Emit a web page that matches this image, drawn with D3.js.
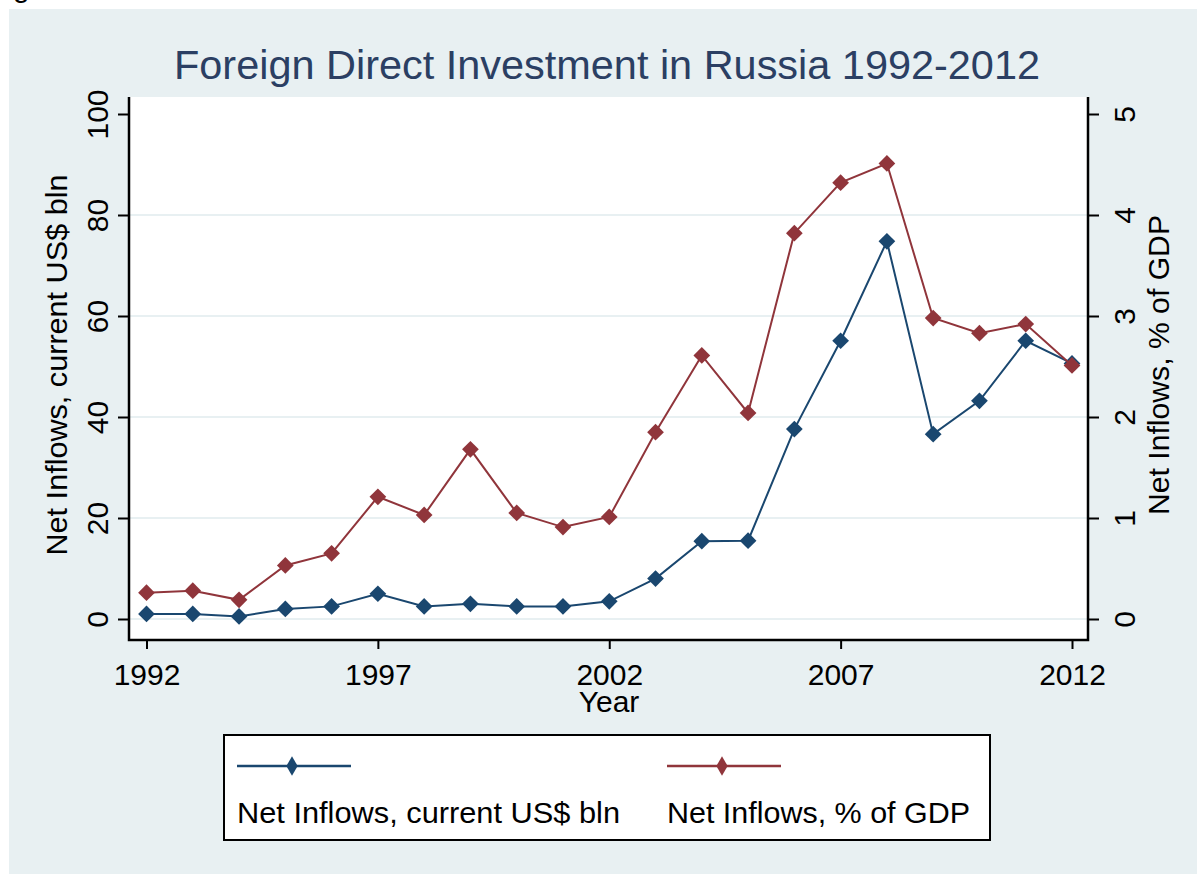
<!DOCTYPE html>
<html>
<head>
<meta charset="utf-8">
<script src="https://cdn.jsdelivr.net/npm/d3@7"></script>
<style>
  body { margin: 0; padding: 0; background: #fff; }
  svg { display: block; font-family: "Liberation Sans", Arial, sans-serif; }
</style>
</head>
<body>
<svg id="chart" width="1197" height="874"></svg>
<script>
// values
var years = d3.range(1992, 2013);
var usdBln = [1.0, 1.0, 0.5, 2.0, 2.5, 5.0, 2.5, 3.0, 2.5, 2.5, 3.5, 8.0, 15.4, 15.5, 37.6, 55.1, 74.8, 36.6, 43.2, 55.1, 50.6];
var pctGdp = [0.26, 0.28, 0.19, 0.53, 0.65, 1.21, 1.03, 1.68, 1.05, 0.91, 1.01, 1.85, 2.61, 2.04, 3.82, 4.32, 4.51, 2.98, 2.83, 2.92, 2.51];
var xTicks = [1992, 1997, 2002, 2007, 2012];
var leftTicks = [0, 20, 40, 60, 80, 100];
var rightTicks = [0, 1, 2, 3, 4, 5];
var gridTicks = [0, 20, 40, 60, 80];
var seriesNames = ["Net Inflows, current US$ bln", "Net Inflows, % of GDP"];
var colors = ["#1a476f", "#90353b"];

var svg = d3.select("#chart");

// outer graph region
svg.append("rect").attr("x", 9).attr("y", 9).attr("width", 1188).attr("height", 865)
  .attr("fill", "#e8f0f2");
// cut-off caption glyph at top-left
svg.append("text").attr("x", 13).attr("y", -3).attr("font-size", 30).attr("fill", "#000").text("g");

var plot = { left: 129, right: 1088, top: 97, bottom: 640 };

var x = d3.scaleLinear().domain([1992, 2012]).range([146.5, 1072]);
var yL = d3.scaleLinear().domain([0, 100]).range([619, 114]);
var yR = d3.scaleLinear().domain([0, 5]).range([619, 114]);

svg.append("rect").attr("x", plot.left).attr("y", plot.top)
  .attr("width", plot.right - plot.left).attr("height", plot.bottom - plot.top)
  .attr("fill", "#fff");

// grid
svg.append("g").selectAll("line").data(gridTicks).enter().append("line")
  .attr("x1", plot.left).attr("x2", plot.right)
  .attr("y1", function(d) { return yL(d); }).attr("y2", function(d) { return yL(d); })
  .attr("stroke", "#e8f0f2").attr("stroke-width", 2);

// axes
function styleAxis(g) {
  g.select(".domain").remove();
  g.selectAll(".tick line").attr("stroke", "#000").attr("stroke-width", 2);
  g.selectAll(".tick text").attr("fill", "#000").attr("font-size", 30)
    .attr("font-family", "Liberation Sans, Arial, sans-serif");
}

var xAxis = svg.append("g").attr("transform", "translate(0," + plot.bottom + ")")
  .call(d3.axisBottom(x).tickValues(xTicks).tickFormat(d3.format("d")).tickSize(9).tickPadding(15))
  .call(styleAxis);
xAxis.selectAll(".tick text").attr("dy", "0.71em");

var lAxis = svg.append("g").attr("transform", "translate(" + plot.left + ",0)")
  .call(d3.axisLeft(yL).tickValues(leftTicks).tickSize(11).tickPadding(0).tickFormat(d3.format("d")))
  .call(styleAxis);
lAxis.selectAll(".tick text")
  .attr("x", null).attr("dy", null)
  .attr("text-anchor", "middle")
  .attr("transform", "translate(-21,0) rotate(-90)");

var rAxis = svg.append("g").attr("transform", "translate(" + plot.right + ",0)")
  .call(d3.axisRight(yR).tickValues(rightTicks).tickSize(11).tickPadding(0).tickFormat(d3.format("d")))
  .call(styleAxis);
rAxis.selectAll(".tick text")
  .attr("x", null).attr("dy", null)
  .attr("text-anchor", "middle")
  .attr("transform", "translate(47,0) rotate(-90)");

// axis lines
var axisPath = "M" + plot.left + "," + plot.top + "V" + plot.bottom + "H" + plot.right + "V" + plot.top;
svg.append("path").attr("d", axisPath).attr("fill", "none").attr("stroke", "#000").attr("stroke-width", 2.5);

// titles
svg.append("text").attr("x", 607).attr("y", 79).attr("text-anchor", "middle")
  .attr("font-size", 40).attr("fill", "#2b3f63")
  .attr("textLength", 866).attr("lengthAdjust", "spacingAndGlyphs")
  .text("Foreign Direct Investment in Russia 1992-2012");

svg.append("text").attr("transform", "translate(67,365) rotate(-90)").attr("text-anchor", "middle")
  .attr("font-size", 30).attr("fill", "#000")
  .attr("textLength", 381).attr("lengthAdjust", "spacingAndGlyphs")
  .text(seriesNames[0]);

svg.append("text").attr("transform", "translate(1169,365) rotate(-90)").attr("text-anchor", "middle")
  .attr("font-size", 30).attr("fill", "#000")
  .attr("textLength", 300).attr("lengthAdjust", "spacingAndGlyphs")
  .text(seriesNames[1]);

svg.append("text").attr("x", 609).attr("y", 712).attr("text-anchor", "middle")
  .attr("font-size", 30).attr("fill", "#000").text("Year");

// series
var diamond = d3.symbol().type(d3.symbolSquare).size(140);

function drawSeries(vals, yScale, color) {
  var data = years.map(function(y, i) { return { year: y, v: vals[i] }; });
  var line = d3.line().x(function(d) { return x(d.year); }).y(function(d) { return yScale(d.v); });
  svg.append("path").datum(data).attr("d", line)
    .attr("fill", "none").attr("stroke", color).attr("stroke-width", 2);
  svg.append("g").selectAll("path").data(data).enter().append("path")
    .attr("d", diamond)
    .attr("transform", function(d) { return "translate(" + x(d.year) + "," + yScale(d.v) + ") rotate(45)"; })
    .attr("fill", color);
}
drawSeries(usdBln, yL, colors[0]);
drawSeries(pctGdp, yR, colors[1]);

// legend
svg.append("rect").attr("x", 224).attr("y", 735).attr("width", 766).attr("height", 105)
  .attr("fill", "#fff").attr("stroke", "#000").attr("stroke-width", 2);

var legendX = [237, 667];
var legendMarker = d3.symbol().type(d3.symbolDiamond).size(110);
seriesNames.forEach(function(name, i) {
  var g = svg.append("g");
  g.append("line").attr("x1", legendX[i]).attr("x2", legendX[i] + 114)
    .attr("y1", 766).attr("y2", 766).attr("stroke", colors[i]).attr("stroke-width", 2.5);
  g.append("path").attr("d", legendMarker)
    .attr("transform", "translate(" + (legendX[i] + 55) + ",766)").attr("fill", colors[i]);
  g.append("text").attr("x", legendX[i]).attr("y", 823).attr("font-size", 30).attr("fill", "#000")
    .attr("textLength", i === 0 ? 383 : 303).attr("lengthAdjust", "spacingAndGlyphs")
    .text(name);
});
</script>
</body>
</html>
